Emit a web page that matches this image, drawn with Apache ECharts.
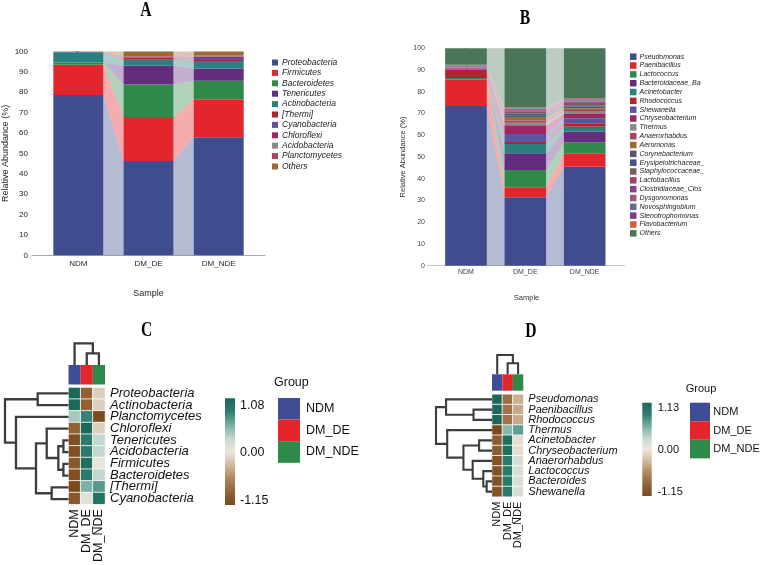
<!DOCTYPE html>
<html><head><meta charset="utf-8">
<script src="https://cdn.jsdelivr.net/npm/echarts@6/dist/echarts.min.js"></script>
<style>html,body{margin:0;padding:0;background:#fff}#main{width:760px;height:565px}</style>
</head><body><div id="main"></div>
<script>
// ---------- DATA ----------
const samples = ['NDM', 'DM_DE', 'DM_NDE'];
const groupNames = ['NDM', 'DM_DE', 'DM_NDE'];

// Panel A: phylum relative abundance (%)
const phylaA = ['Proteobacteria','Firmicutes','Bacteroidetes','Tenericutes','Actinobacteria','[Thermi]','Cyanobacteria','Chloroflexi','Acidobacteria','Planctomycetes','Others'];
const phylaA_NDM   = [78.7, 14.8, 1.1, 0.1, 4.9, 0.05, 0.05, 0.05, 0.05, 0.05, 0.15];
const phylaA_DMDE  = [46.3, 21.6, 15.9, 9.2, 3.0, 1.0, 0.2, 0.3, 0.1, 0.1, 2.3];
const phylaA_DMNDE = [57.9, 18.4, 9.4, 6.0, 3.6, 0.5, 1.0, 0.5, 0.2, 0.5, 2.0];

// Panel B: genus relative abundance (%)
const generaB = ['Pseudomonas','Paenibacillus','Lactococcus','Bacteroidaceae_Ba','Acinetobacter','Rhodococcus','Shewanella','Chryseobacterium','Thermus','Anaerorhabdus','Aeromonas','Corynebacterium','Erysipelotrichaceae_','Staphylococcaceae_','Lactobacillus','Clostridiaceae_Clos','Dysgonomonas','Novosphingobium','Stenotrophomonas','Flavobacterium','Others'];
const generaB_NDM   = [73.5, 12.2, 0.1, 0.1, 0.4, 3.8, 0.4, 0.3, 0.3, 0.1, 0.1, 0.2, 0.1, 0.1, 0.1, 0.1, 0.1, 0.2, 0.1, 0.1, 7.6];
const generaB_DMDE  = [31.5, 4.6, 7.9, 7.7, 4.3, 0.9, 3.7, 4.0, 1.1, 1.1, 1.3, 1.1, 0.8, 0.8, 0.7, 0.5, 0.3, 0.2, 0.2, 0.3, 27.0];
const generaB_DMNDE = [45.5, 6.2, 5.1, 4.8, 2.3, 1.6, 2.3, 2.0, 1.0, 0.8, 0.7, 0.9, 0.6, 0.6, 0.6, 0.5, 0.5, 0.4, 0.3, 0.3, 23.0];

// Panel C: phylum heatmap (row z-scores)
const rowsC = ['Proteobacteria','Actinobacteria','Planctomycetes','Chloroflexi','Tenericutes','Acidobacteria','Firmicutes','Bacteroidetes','[Thermi]','Cyanobacteria'];
const zC_NDM   = [1.08, 1.08, 0.35, -0.90, -1.10, -1.10, -1.00, -1.10, -1.15, -1.00];
const zC_DMDE  = [-0.90, -0.90, 0.78, 1.08, 0.85, 0.85, 1.00, 0.85, 0.50, 0.05];
const zC_DMNDE = [-0.18, -0.18, -1.13, -0.18, 0.25, 0.25, 0.00, 0.25, 0.65, 0.95];
const rangeC = [-1.15, 1.08];
// dendrogram merges: [childA, childB, height]; leaves 0..9, new nodes numbered from 10
const rowMergesC = [[4,5,0.08],[6,7,0.08],[10,11,0.16],[3,12,0.343],[8,9,0.265],[13,14,0.512],[2,15,0.827],[0,1,0.485],[17,16,1.0]];
const colMergesC = [[1,2,0.54],[0,3,1.0]];

// Panel D: genus heatmap (row z-scores)
const rowsD = ['Pseudomonas','Paenibacillus','Rhodococcus','Thermus','Acinetobacter','Chryseobacterium','Anaerorhabdus','Lactococcus','Bacteroides','Shewanella'];
const zD_NDM   = [1.13, 1.13, 1.13, -1.15, -0.95, -0.95, -1.07, -1.07, -1.07, -1.07];
const zD_DMDE  = [-0.78, -0.74, -0.74, 0.50, 1.03, 1.03, 0.91, 0.91, 0.91, 0.91];
const zD_DMNDE = [-0.35, -0.39, -0.39, 0.65, -0.08, -0.08, 0.16, 0.16, 0.16, 0.16];
const rangeD = [-1.15, 1.13];
const rowMergesD = [[1,2,0.33],[0,10,0.82],[8,9,0.095],[7,12,0.155],[6,13,0.345],[4,5,0.23],[15,14,0.51],[3,16,0.80],[11,17,1.0]];
const colMergesD = [[1,2,0.57],[0,3,1.0]];

// ---------- STYLES ----------
const colorsA = ['#3f4d8f','#e3262b','#2f8a4a','#642c7d','#2a7f7f','#b0262f','#5a559e','#9e2762','#8a8a8a','#a8445f','#9c6b30'];
const colorsB = ['#3f4d8f','#e3262b','#2f8a4a','#642c7d','#2a7f7f','#b0262f','#5a559e','#9e2762','#8a8a8a','#a8445f','#9c6b30','#555a66','#4a4f85','#7b5b58','#a5406a','#87408a','#9a5b7b','#686a98','#7a3f7f','#d0613a','#4a7558'];
const groupColors = ['#3f4d96','#e3262b','#2f8a4a'];
const heatColors = ['#7a4a1f','#92643a','#b08860','#d0b99f','#ece6dd','#c4d8cf','#78ada1','#2f7e70','#1b675a'];
const SANS = '"Liberation Sans", Arial, sans-serif';
const SERIF = '"Liberation Serif", "Times New Roman", serif';

const chart = echarts.init(document.getElementById('main'), null, {renderer: 'canvas'});

function makeStackRender(barW) {
  return function (params, api) {
    const i = api.value(0), b = api.value(1), t = api.value(2);
    const p0 = api.coord([i, b]), p1 = api.coord([i, t]);
    const color = api.visual('color');
    const children = [{type: 'rect', shape: {x: p0[0] - barW / 2, y: p1[1], width: barW, height: p0[1] - p1[1]}, style: {fill: color}}];
    if (api.value(5)) {
      const q0 = api.coord([i + 1, api.value(3)]), q1 = api.coord([i + 1, api.value(4)]);
      children.push({type: 'polygon', shape: {points: [[p0[0] + barW / 2, p0[1]], [p1[0] + barW / 2, p1[1]], [q1[0] - barW / 2, q1[1]], [q0[0] - barW / 2, q0[1]]]},
        style: {fill: color, opacity: 0.38}});
    }
    return {type: 'group', children};
  };
}
function stackSeries(names, perSample, colors, axisIdx, barW) {
  const n = perSample.length;
  const cum = perSample.map(arr => { let c = 0; return arr.map(v => { const b = c; c += v; return [b, c]; }); });
  return names.map((name, k) => ({
    type: 'custom', name, xAxisIndex: axisIdx, yAxisIndex: axisIdx,
    itemStyle: {color: colors[k]},
    renderItem: makeStackRender(barW),
    encode: {x: 0, y: [1, 2]},
    data: perSample.map((_, i) => [i, cum[i][k][0], cum[i][k][1],
      i < n - 1 ? cum[i + 1][k][0] : 0, i < n - 1 ? cum[i + 1][k][1] : 0, i < n - 1 ? 1 : 0])
  }));
}
function dendroSegments(merges, nLeaves) {
  const pos = [], ht = [];
  for (let i = 0; i < nLeaves; i++) { pos.push(i + 0.5); ht.push(0); }
  return merges.map(([a, b, h]) => { const s = [pos[a], ht[a], pos[b], ht[b], h]; pos.push((pos[a] + pos[b]) / 2); ht.push(h); return s; });
}
function dendroSeries(merges, nLeaves, axisIdx, horizontal, lw) {
  return {
    type: 'custom', xAxisIndex: axisIdx, yAxisIndex: axisIdx, silent: true,
    data: dendroSegments(merges, nLeaves),
    renderItem: function (params, api) {
      const pA = api.value(0), hA = api.value(1), pB = api.value(2), hB = api.value(3), h = api.value(4);
      const pt = (p, hh) => horizontal ? api.coord([hh, p]) : api.coord([p, hh]);
      return {type: 'polyline', shape: {points: [pt(pA, hA), pt(pA, h), pt(pB, h), pt(pB, hB)]},
        style: {stroke: '#3d3d3d', lineWidth: lw, fill: null, lineJoin: 'miter'}};
    }
  };
}
function heatData(cols) {
  const out = [];
  cols.forEach((col, x) => col.forEach((v, y) => out.push([x, y, v])));
  return out;
}

const grids = [
  {left: 31, top: 51.5, width: 234, height: 203.8},      // 0 A
  {left: 428, top: 48.3, width: 197, height: 217.4},     // 1 B
  {left: 68.5, top: 387.5, width: 36.5, height: 117.5},  // 2 C heat
  {left: 68.5, top: 365, width: 36.5, height: 19.5},     // 3 C group
  {left: 5, top: 387.5, width: 63.5, height: 117.5},     // 4 C row dendro
  {left: 68.5, top: 343.3, width: 36.5, height: 21.7},   // 5 C col dendro
  {left: 492, top: 394.3, width: 31.3, height: 102.4},   // 6 D heat
  {left: 492, top: 374.3, width: 31.3, height: 16.4},    // 7 D group
  {left: 436, top: 394.3, width: 56, height: 102.4},     // 8 D row dendro
  {left: 492, top: 355, width: 31.3, height: 19.3}       // 9 D col dendro
];
const hidden = {show: false};
const xAxes = [
  {gridIndex: 0, type: 'value', min: -0.66, max: 2.66, splitLine: hidden, axisTick: hidden,
    axisLine: {lineStyle: {color: '#a4a6b8'}},
    axisLabel: {customValues: [0, 1, 2], formatter: v => samples[Math.round(v)], fontSize: 8, color: '#222', margin: 4, fontFamily: SANS},
    name: 'Sample', nameLocation: 'middle', nameGap: 34, nameTextStyle: {fontSize: 9, color: '#222', fontFamily: SANS}},
  {gridIndex: 1, type: 'value', min: -0.64, max: 2.68, splitLine: hidden, axisTick: hidden,
    axisLine: {lineStyle: {color: '#c8c8c8'}},
    axisLabel: {customValues: [0, 1, 2], formatter: v => samples[Math.round(v)], fontSize: 7, color: '#444', margin: 3, fontFamily: SANS},
    name: 'Sample', nameLocation: 'middle', nameGap: 28, nameTextStyle: {fontSize: 7.5, color: '#333', fontFamily: SANS}},
  {gridIndex: 2, type: 'category', data: samples, position: 'bottom', axisLine: hidden, axisTick: hidden,
    axisLabel: {rotate: 90, interval: 0, fontSize: 12.5, margin: 5, color: '#111', fontFamily: SANS}},
  {gridIndex: 3, type: 'category', data: samples, show: false},
  {gridIndex: 4, type: 'value', min: 0, max: 1, inverse: true, show: false},
  {gridIndex: 5, type: 'value', min: 0, max: 3, show: false},
  {gridIndex: 6, type: 'category', data: samples, position: 'bottom', axisLine: hidden, axisTick: hidden,
    axisLabel: {rotate: 90, interval: 0, fontSize: 11, margin: 5, color: '#111', fontFamily: SANS}},
  {gridIndex: 7, type: 'category', data: samples, show: false},
  {gridIndex: 8, type: 'value', min: 0, max: 1, inverse: true, show: false},
  {gridIndex: 9, type: 'value', min: 0, max: 3, show: false}
];
const yAxes = [
  {gridIndex: 0, type: 'value', min: 0, max: 100, interval: 10, splitLine: hidden,
    axisLine: {show: true, lineStyle: {color: '#a4a6b8'}}, axisTick: {show: true, length: 3, lineStyle: {color: '#a4a6b8'}},
    axisLabel: {fontSize: 8, color: '#222', margin: 4, fontFamily: SANS},
    name: 'Relative Abundance (%)', nameLocation: 'middle', nameGap: 22, nameTextStyle: {fontSize: 9, color: '#222', fontFamily: SANS}},
  {gridIndex: 1, type: 'value', min: 0, max: 100, interval: 10, splitLine: hidden,
    axisLine: {show: true, lineStyle: {color: '#c8c8c8'}}, axisTick: {show: true, length: 2, lineStyle: {color: '#c8c8c8'}},
    axisLabel: {fontSize: 7, color: '#444', margin: 3, fontFamily: SANS},
    name: 'Relative Abundance (%)', nameLocation: 'middle', nameGap: 21, nameTextStyle: {fontSize: 7.5, color: '#333', fontFamily: SANS}},
  {gridIndex: 2, type: 'category', data: rowsC, inverse: true, position: 'right', axisLine: hidden, axisTick: hidden,
    axisLabel: {interval: 0, fontSize: 13, fontStyle: 'italic', margin: 5, color: '#111', fontFamily: SANS}},
  {gridIndex: 3, type: 'value', min: 0, max: 1, show: false},
  {gridIndex: 4, type: 'value', min: 0, max: 10, inverse: true, show: false},
  {gridIndex: 5, type: 'value', min: 0, max: 1, show: false},
  {gridIndex: 6, type: 'category', data: rowsD, inverse: true, position: 'right', axisLine: hidden, axisTick: hidden,
    axisLabel: {interval: 0, fontSize: 11, fontStyle: 'italic', margin: 5, color: '#111', fontFamily: SANS}},
  {gridIndex: 7, type: 'value', min: 0, max: 1, show: false},
  {gridIndex: 8, type: 'value', min: 0, max: 10, inverse: true, show: false},
  {gridIndex: 9, type: 'value', min: 0, max: 1, show: false}
];

const series = [];
const seriesA = stackSeries(phylaA, [phylaA_NDM, phylaA_DMDE, phylaA_DMNDE], colorsA, 0, 50);
const seriesB = stackSeries(generaB, [generaB_NDM, generaB_DMDE, generaB_DMNDE], colorsB, 1, 41.7);
series.push(...seriesA, ...seriesB);
const heatCIdx = series.length;
series.push({type: 'heatmap', xAxisIndex: 2, yAxisIndex: 2, data: heatData([zC_NDM, zC_DMDE, zC_DMNDE]),
  itemStyle: {borderColor: '#fff', borderWidth: 0.8}, silent: true});
series.push({type: 'bar', xAxisIndex: 3, yAxisIndex: 3, barWidth: '100%', silent: true,
  data: groupNames.map((g, i) => ({value: 1, itemStyle: {color: groupColors[i]}}))});
series.push(dendroSeries(rowMergesC, rowsC.length, 4, true, 2.3));
series.push(dendroSeries(colMergesC, samples.length, 5, false, 2.3));
const heatDIdx = series.length;
series.push({type: 'heatmap', xAxisIndex: 6, yAxisIndex: 6, data: heatData([zD_NDM, zD_DMDE, zD_DMNDE]),
  itemStyle: {borderColor: '#fff', borderWidth: 0.8}, silent: true});
series.push({type: 'bar', xAxisIndex: 7, yAxisIndex: 7, barWidth: '100%', silent: true,
  data: groupNames.map((g, i) => ({value: 1, itemStyle: {color: groupColors[i]}}))});
series.push(dendroSeries(rowMergesD, rowsD.length, 8, true, 2.1));
series.push(dendroSeries(colMergesD, samples.length, 9, false, 2.1));

// graphic: titles, colour bars, group keys
const graphic = [];
[['A', 146, 10.5], ['B', 525, 18.5], ['C', 146.7, 331], ['D', 531, 331.5]].forEach(([t, x, y]) => {
  graphic.push({type: 'text', x, y, scaleX: 0.78, style: {text: t, font: 'bold 20px ' + SERIF, fill: '#000', align: 'center', verticalAlign: 'middle'}});
});
function colorBar(x, y, w, h, labels, labelX, fs) {
  const stops = heatColors.slice().reverse().map((c, i, a) => ({offset: i / (a.length - 1), color: c}));
  graphic.push({type: 'rect', shape: {x, y, width: w, height: h}, style: {fill: {type: 'linear', x: 0, y: 0, x2: 0, y2: 1, colorStops: stops}}});
  labels.forEach(([txt, ly]) => graphic.push({type: 'text', x: labelX, y: ly,
    style: {text: txt, font: fs + 'px ' + SANS, fill: '#111', align: 'left', verticalAlign: 'middle'}}));
}
colorBar(225, 398.3, 10, 106.7, [[rangeC[1].toFixed(2), 406], ['0.00', 453], [rangeC[0].toFixed(2), 501]], 240, 12.5);
colorBar(642.3, 402.7, 9.4, 93.3, [[rangeD[1].toFixed(2), 408], ['0.00', 450], [rangeD[0].toFixed(2), 492.3]], 657.7, 11);
function groupKey(titleX, titleY, bx, by, bw, bh, lx, fs) {
  graphic.push({type: 'text', x: titleX, y: titleY, style: {text: 'Group', font: fs + 'px ' + SANS, fill: '#111', align: 'left', verticalAlign: 'middle'}});
  groupNames.forEach((g, i) => {
    graphic.push({type: 'rect', shape: {x: bx, y: by + i * bh, width: bw, height: bh}, style: {fill: groupColors[i]}});
    graphic.push({type: 'text', x: lx, y: by + (i + 0.5) * bh, style: {text: g, font: fs + 'px ' + SANS, fill: '#111', align: 'left', verticalAlign: 'middle'}});
  });
}
groupKey(274, 383, 278, 398, 22, 21.6, 306, 12.5);
groupKey(685.7, 389.3, 690, 402.7, 20, 18.55, 713.3, 11);

const option = {
  backgroundColor: '#fff',
  animation: false,
  grid: grids,
  xAxis: xAxes,
  yAxis: yAxes,
  legend: [
    {left: 272, top: 57.3, orient: 'vertical', padding: 0, itemGap: 0, itemWidth: 6, itemHeight: 6, icon: 'rect', selectedMode: false,
      data: phylaA, textStyle: {fontSize: 8.5, fontStyle: 'italic', color: '#222', lineHeight: 10.4, fontFamily: SANS, padding: [0, 0, 0, -1]}},
    {left: 630, top: 52.3, orient: 'vertical', padding: 0, itemGap: 0, itemWidth: 6.5, itemHeight: 6.5, icon: 'rect', selectedMode: false,
      data: generaB.map((n, k) => n === 'Others' ? {name: n, itemStyle: {color: colorsB[k]}} : n),
      textStyle: {fontSize: 7, fontStyle: 'italic', color: '#222', lineHeight: 8.83, fontFamily: SANS, padding: [0, 0, 0, -2]}}
  ],
  visualMap: [
    {type: 'continuous', show: false, seriesIndex: heatCIdx, dimension: 2, min: rangeC[0], max: rangeC[1], inRange: {color: heatColors}},
    {type: 'continuous', show: false, seriesIndex: heatDIdx, dimension: 2, min: rangeD[0], max: rangeD[1], inRange: {color: heatColors}}
  ],
  graphic,
  series
};
chart.setOption(option);
</script></body></html>
